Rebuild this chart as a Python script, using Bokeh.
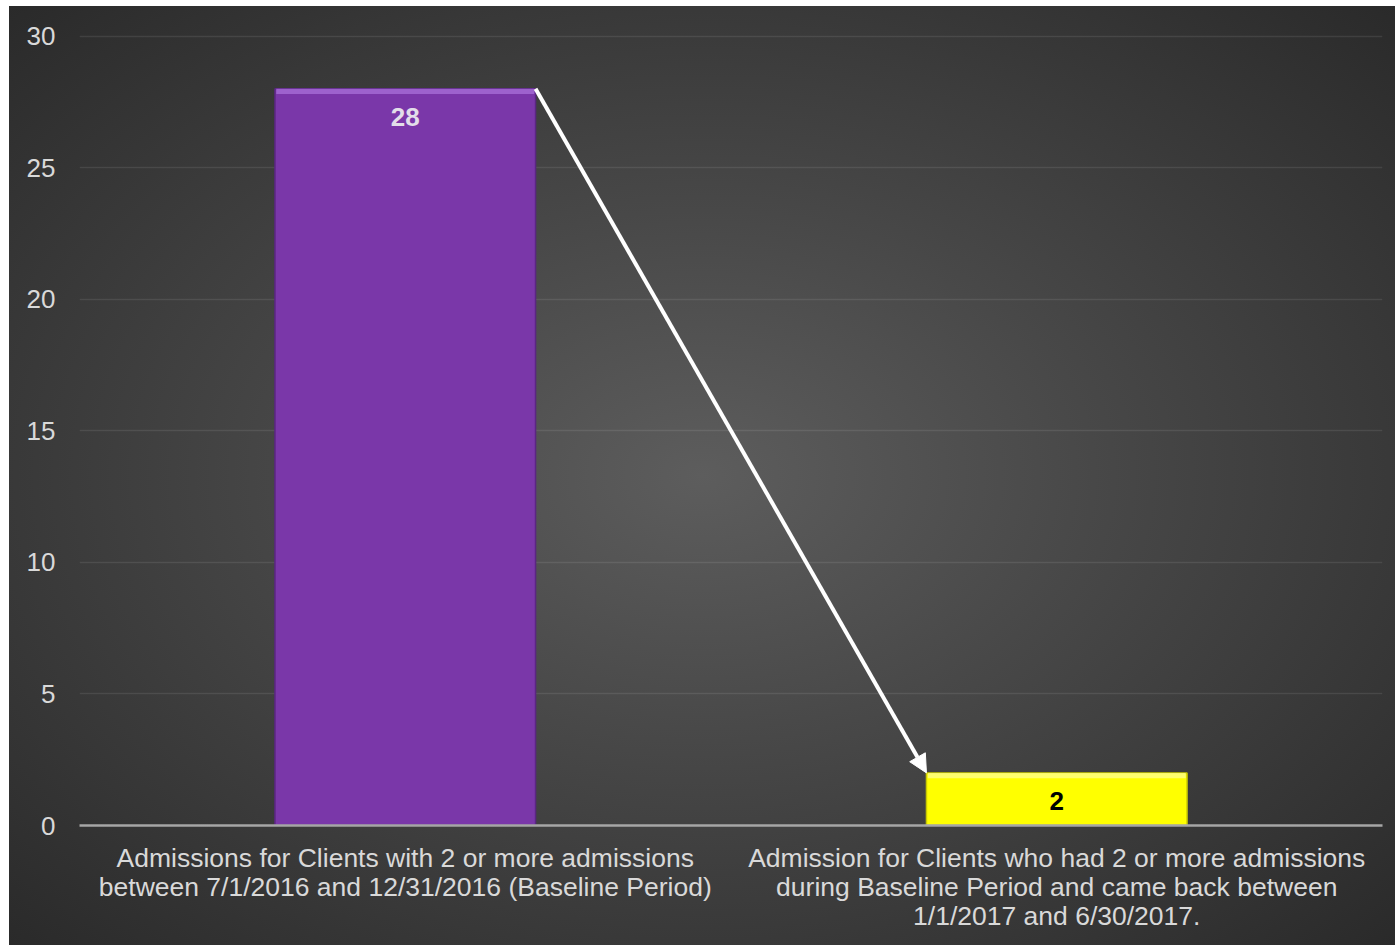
from bokeh.plotting import figure
from bokeh.models import FactorRange, Arrow, NormalHead, ColumnDataSource, FixedTicker, Range1d
from bokeh.core.properties import value
from bokeh.embed import file_html
from bokeh.resources import INLINE

categories = [
    "Admissions for Clients with 2 or more admissions\nbetween 7/1/2016 and 12/31/2016 (Baseline Period)",
    "Admission for Clients who had 2 or more admissions\nduring Baseline Period and came back between\n1/1/2017 and 6/30/2017.",
]
values = [28, 2]
bar_colors = ["#7a37a9", "#ffff00"]
bar_edges = ["#5a2682", "#c9c900"]
highlight_colors = ["#a36ad3", "#ffff80"]
label_colors = ["#e2dde9", "#000000"]
y_ticks = [0, 5, 10, 15, 20, 25, 30]

FONT = "Liberation Sans"
BAR_W = 0.4

p = figure(
    x_range=FactorRange(*categories, range_padding=0),
    y_range=Range1d(0, 30.1),
    width=1386, height=939,
    output_backend="svg", toolbar_location=None,
    min_border_left=70, min_border_right=13, min_border_top=27, min_border_bottom=120,
)
p.styles = {
    "background": "radial-gradient(ellipse farthest-corner at 50% 50%, #5d5d5d 0%, #484848 40%, #2a2a2a 100%)",
    "margin-left": "9px",
    "margin-top": "6px",
}
p.border_fill_alpha = 0
p.background_fill_alpha = 0
p.outline_line_color = None

src = ColumnDataSource(dict(
    x=categories, top=values, color=bar_colors, edge=bar_edges,
    hl=highlight_colors, hl_bottom=[v - 0.2 for v in values],
    label=[str(v) for v in values], lcolor=label_colors,
))

# bars
p.vbar(x="x", top="top", bottom=0, width=BAR_W, source=src,
       fill_color="color", line_color="edge", line_width=1.5)
# top bevel highlight
p.vbar(x="x", top="top", bottom="hl_bottom", width=BAR_W - 0.004, source=src,
       fill_color="hl", line_color=None, fill_alpha=0.85)

# value labels (inside end)
p.text(x="x", y="top", text="label", source=src, text_color="lcolor",
       text_font=value(FONT), text_font_size="26px", text_font_style="bold",
       text_align="center", text_baseline="middle", y_offset=28)

# arrow from top-right of first bar to top-left of second bar
p.add_layout(Arrow(
    x_start=0.5 + BAR_W / 2, y_start=values[0],
    x_end=1.5 - BAR_W / 2, y_end=values[1],
    line_color="white", line_width=4,
    end=NormalHead(size=18, fill_color="white", line_color="white", line_width=1),
))

# axes styling
p.yaxis.ticker = FixedTicker(ticks=y_ticks)
p.yaxis.axis_line_color = None
p.yaxis.major_tick_line_color = None
p.yaxis.minor_tick_line_color = None
p.yaxis.major_label_text_font = FONT
p.yaxis.major_label_text_font_size = "26px"
p.yaxis.major_label_text_color = "#d9d9d9"
p.yaxis.major_label_standoff = 18

p.xaxis.axis_line_color = "#a6a6a6"
p.xaxis.axis_line_width = 2.5
p.xaxis.major_tick_line_color = None
p.xaxis.minor_tick_line_color = None
p.xaxis.major_label_text_font = FONT
p.xaxis.major_label_text_font_size = "26.5px"
p.xaxis.major_label_text_color = "#d9d9d9"
p.xaxis.major_label_text_line_height = 0.98
p.xaxis.major_label_standoff = 11
p.xaxis.major_label_orientation = "horizontal"

p.xgrid.grid_line_color = None
p.ygrid.grid_line_color = "#ffffff"
p.ygrid.grid_line_alpha = 0.09
p.ygrid.grid_line_width = 1.5

open("out.html", "w").write(file_html(p, INLINE))
